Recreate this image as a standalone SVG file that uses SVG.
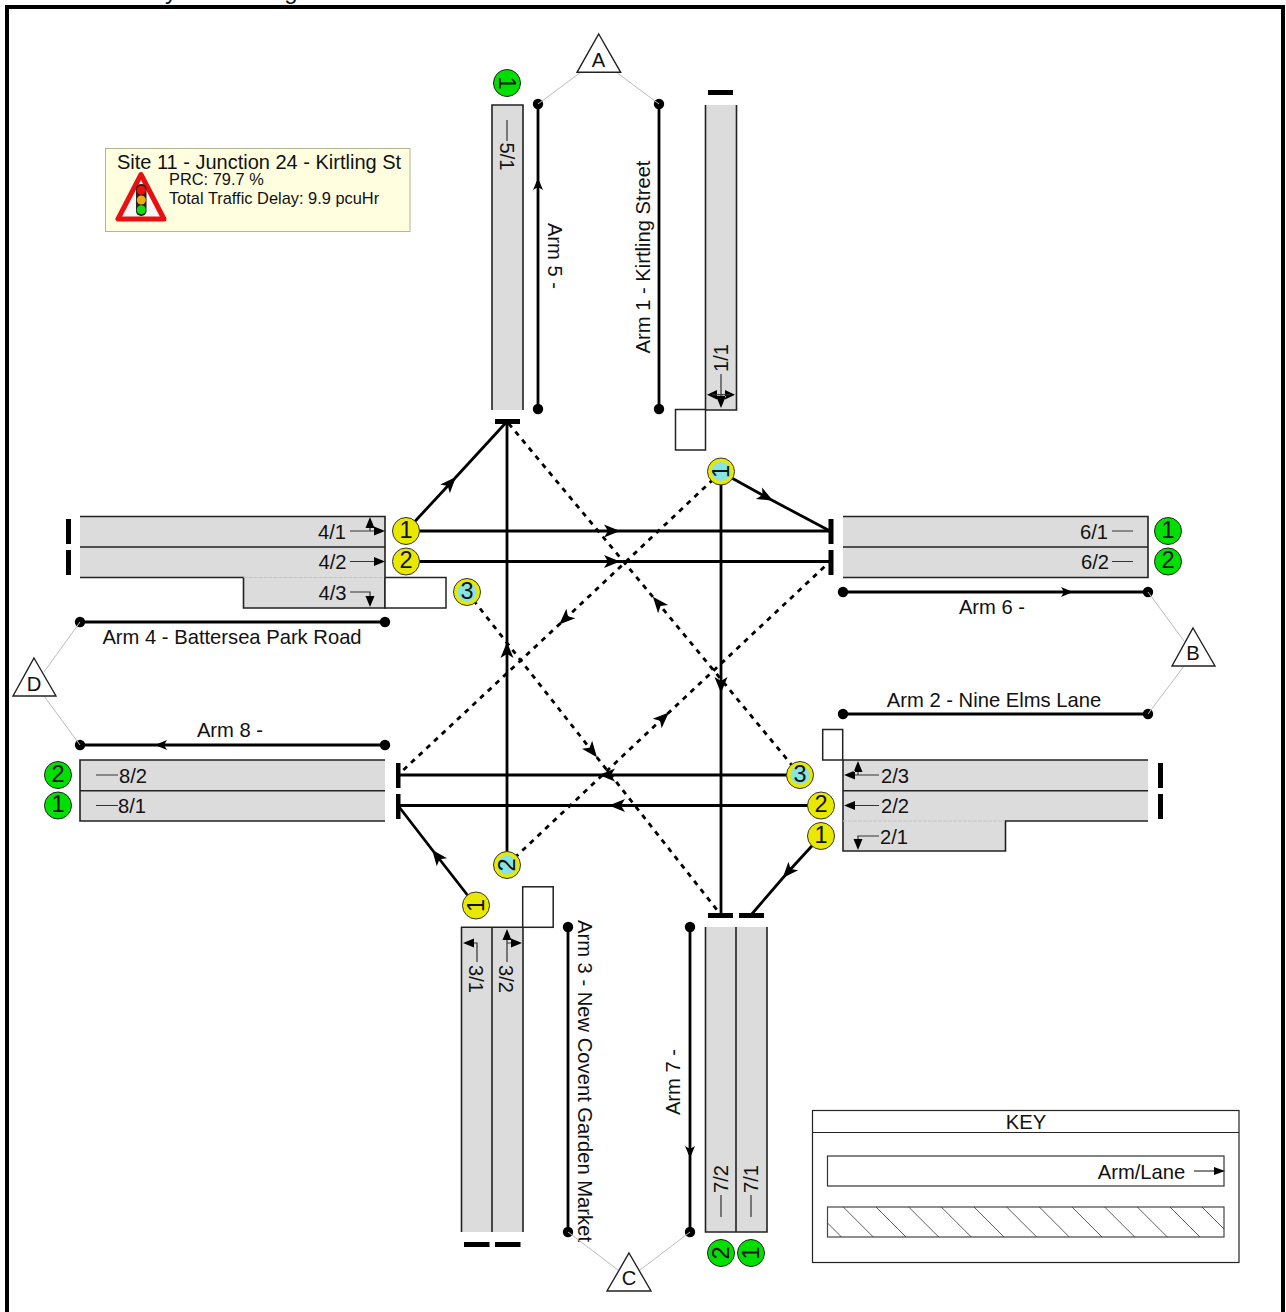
<svg xmlns="http://www.w3.org/2000/svg" width="1286" height="1312" viewBox="0 0 1286 1312">
<style>
text{font-family:"Liberation Sans",Arial,sans-serif;font-size:20.2px;fill:#111;text-anchor:middle;dominant-baseline:central}
.road{fill:#dcdcdc;stroke:none}
.edge{fill:none;stroke:#222;stroke-width:1.6}
.white{fill:#fff;stroke:#222;stroke-width:1.5}
.faint{stroke:#c4c4c4;stroke-width:1;fill:none;stroke-dasharray:4 1}
.bar{fill:#000}
.arm{stroke:#000;stroke-width:2.8;fill:none}
.link{stroke:#000;stroke-width:2.8;fill:none;marker-mid:url(#mid)}
.dash{stroke:#000;stroke-width:2.8;fill:none;stroke-dasharray:5 5.5;marker-mid:url(#mid)}
.dot{fill:#000}
.grey{stroke:#bcbcbc;stroke-width:1;fill:none}
.tri{fill:#fff;stroke:#222;stroke-width:1.4}
.lane{stroke:#333;stroke-width:1.2;fill:none}
.head{fill:#000}
.y{fill:#e8e800;stroke:#333;stroke-width:1}
.g{fill:#00e000;stroke:#222;stroke-width:1}
.c{fill:#88e4e4}
.num{font-size:23.5px}
.sm{font-size:16.4px;text-anchor:start}
.clip{font-size:24px;dominant-baseline:alphabetic}
</style>
<defs>
<marker id="mid" markerUnits="userSpaceOnUse" markerWidth="18" markerHeight="14" refX="8" refY="7" orient="auto" overflow="visible"><path d="M0,0.5 L16,7 L0,13.5 L4,7 Z" fill="#000"/></marker>
</defs>

<text class="clip" x="171" y="-1">y</text>
<text class="clip" x="291" y="-1">g</text>
<rect id="frame" x="7" y="7" width="1276" height="1312" fill="none" stroke="#000" stroke-width="4"/>

<g id="info-box">
<rect x="105.500" y="148.500" width="304.500" height="83" fill="#ffffe0" stroke="#b4b494" stroke-width="1"/>
<text x="259" y="162" style="font-size:20px">Site 11 - Junction 24 - Kirtling St</text>
<text class="sm" x="169" y="179">PRC: 79.7 %</text>
<text class="sm" x="169" y="198">Total Traffic Delay: 9.9 pcuHr</text>
<path d="M141,174.500 L118,219 L164,219 Z" fill="#f8f8f8" stroke="#e81010" stroke-width="5" stroke-linejoin="round"/>
<rect x="136" y="184" width="10.500" height="32" rx="5" fill="#222"/>
<circle cx="141.300" cy="190.300" r="4.500" fill="#e81010"/>
<circle cx="141.300" cy="200" r="4.500" fill="#eeaa18"/>
<circle cx="141.300" cy="209.700" r="4.500" fill="#10e010"/>
</g>

<g id="arm-5">
<rect class="road" x="492" y="105" width="31" height="305"/>
<path class="edge" d="M492,410 V105 H523 V410"/>
<rect class="bar" x="495" y="419" width="25" height="5"/>
<path class="lane" d="M507,120 V141"/>
<text transform="rotate(90 507 156.500)" x="507" y="156.500">5/1</text>
<path class="arm" d="M538,104 V409"/>
<circle class="dot" cx="538" cy="104" r="5.200"/><circle class="dot" cx="538" cy="409" r="5.200"/>
<path d="M538,178 L543,190 L538,187 L533,190 Z" fill="#000"/>
<text transform="rotate(90 555 256)" x="555" y="256">Arm 5 -</text>
</g>

<g id="arm-1">
<rect class="road" x="705.500" y="105" width="31" height="305"/>
<path class="edge" d="M705.500,105 V410 H736.500 V105"/>
<rect class="white" x="675.500" y="409.500" width="30" height="40.500"/>
<rect class="bar" x="708" y="90" width="25" height="5"/>
<path class="lane" d="M721,374 V406"/>
<path class="head" d="M721,408 L716,396 H726 Z M707,394.700 L717,390 V399.500 Z M735,394.700 L725,390 V399.500 Z"/>
<path class="lane" d="M712,394.700 H730"/>
<text transform="rotate(-90 721 358)" x="721" y="358">1/1</text>
<path class="arm" d="M659,104 V409"/>
<circle class="dot" cx="659" cy="104" r="5.200"/><circle class="dot" cx="659" cy="409" r="5.200"/>
<text transform="rotate(-90 643 257)" x="643" y="257">Arm 1 - Kirtling Street</text>
</g>

<g id="arm-4">
<rect class="road" x="80" y="516" width="305" height="61"/>
<rect class="road" x="243" y="577" width="142" height="31"/>
<path class="edge" d="M80,516.500 H385 V608 H243.500 V577.500 H80 M80,547 H385"/>
<path class="faint" d="M243.500,577.500 H385"/>
<rect class="white" x="385" y="577.500" width="61" height="30.500"/>
<rect class="bar" x="66" y="519" width="5" height="25"/><rect class="bar" x="66" y="550" width="5" height="25"/>
<text x="332" y="532">4/1</text><text x="332.500" y="562">4/2</text><text x="332.500" y="593">4/3</text>
<path class="lane" d="M350,531 H376 M370,531 V526 M350,561.500 H376 M350,592 H370 V598"/>
<path class="head" d="M385,531 L374,526.500 V535.500 Z M370,517 L365.500,528 H374.500 Z M385,561.500 L374,557 V566 Z M370,607 L365.500,596 H374.500 Z"/>
<path class="arm" d="M80,622 H385"/>
<circle class="dot" cx="80" cy="622" r="5.200"/><circle class="dot" cx="385" cy="622" r="5.200"/>
<text x="232" y="637">Arm 4 - Battersea Park Road</text>
</g>

<g id="arm-6">
<rect class="road" x="843" y="516" width="305" height="62"/>
<path class="edge" d="M843,516.500 H1148 V577.500 H843 M843,547 H1148"/>
<rect class="bar" x="828.500" y="519" width="5" height="25"/><rect class="bar" x="828.500" y="550" width="5" height="25"/>
<text x="1094" y="532">6/1</text><text x="1095" y="562">6/2</text>
<path class="lane" d="M1112,531 H1133 M1112,561.500 H1133"/>
<path class="arm" d="M843,592 H1148"/>
<circle class="dot" cx="843" cy="592" r="5.200"/><circle class="dot" cx="1148" cy="592" r="5.200"/>
<path d="M1073,592 L1061,587 L1064,592 L1061,597 Z" fill="#000"/>
<text x="992" y="607">Arm 6 -</text>
</g>

<g id="arm-2">
<rect class="road" x="843" y="760" width="305" height="61"/>
<rect class="road" x="843" y="821" width="163" height="30"/>
<path class="edge" d="M1148,760 H843 V851 H1005.500 V821 H1148 M843,790.700 H1148"/>
<path class="faint" d="M843,821 H1005"/>
<rect class="white" x="822.700" y="729.500" width="20" height="30.500"/>
<rect class="bar" x="1158" y="763" width="5" height="25"/><rect class="bar" x="1158" y="794" width="5" height="25"/>
<text x="895" y="776">2/3</text><text x="895" y="806">2/2</text><text x="894" y="837">2/1</text>
<path class="lane" d="M879,775 H852 M858,775 V770 M879,805.500 H852 M879,836 H858 V842"/>
<path class="head" d="M844,775 L855,770.500 V779.500 Z M858,761 L853.500,772 H862.500 Z M844,805.500 L855,801 V810 Z M858,850 L853.500,839 H862.500 Z"/>
<path class="arm" d="M843,714 H1148"/>
<circle class="dot" cx="843" cy="714" r="5.200"/><circle class="dot" cx="1148" cy="714" r="5.200"/>
<text x="994" y="700">Arm 2 - Nine Elms Lane</text>
</g>

<g id="arm-8">
<rect class="road" x="80" y="760" width="305" height="61"/>
<path class="edge" d="M385,760 H80 V821 H385 M80,790.700 H385"/>
<rect class="bar" x="396" y="763" width="4.500" height="25"/><rect class="bar" x="396" y="794" width="4.500" height="25"/>
<text x="133" y="776">8/2</text><text x="132" y="806">8/1</text>
<path class="lane" d="M96,775 H118 M96,805.500 H118"/>
<path class="arm" d="M80,745 H385"/>
<circle class="dot" cx="80" cy="745" r="5.200"/><circle class="dot" cx="385" cy="745" r="5.200"/>
<path d="M155,745 L167,740 L164,745 L167,750 Z" fill="#000"/>
<text x="230" y="730">Arm 8 -</text>
</g>

<g id="arm-3">
<rect class="road" x="461.500" y="927" width="61.500" height="305"/>
<path class="edge" d="M461.500,1232 V927.300 H523 V1232 M492,927 V1232"/>
<rect class="white" x="522.700" y="886.800" width="30.500" height="40.500"/>
<rect class="bar" x="464" y="1242" width="25.500" height="5"/><rect class="bar" x="495" y="1242" width="25.500" height="5"/>
<path class="lane" d="M477,962 V943 H468 M507,962 V935 M507,943 H515"/>
<path class="head" d="M463,943 L474,938.500 V947.500 Z M507,929 L502.500,940 H511.500 Z M522,943 L511,938.500 V947.500 Z"/>
<text transform="rotate(90 476 979)" x="476" y="979">3/1</text>
<text transform="rotate(90 506 979)" x="506" y="979">3/2</text>
<path class="arm" d="M568,927 V1232"/>
<circle class="dot" cx="568" cy="927" r="5.200"/><circle class="dot" cx="568" cy="1232" r="5.200"/>
<text transform="rotate(90 585 1081)" x="585" y="1081">Arm 3 - New Covent Garden Market</text>
</g>

<g id="arm-7">
<rect class="road" x="705.500" y="927" width="61.500" height="305"/>
<path class="edge" d="M705.500,927 V1232 H767 V927 M736,927 V1232"/>
<rect class="bar" x="708" y="913" width="25" height="5"/><rect class="bar" x="739" y="913" width="25" height="5"/>
<path class="lane" d="M721,1217 V1195 M751,1217 V1195"/>
<text transform="rotate(-90 721 1179)" x="721" y="1179">7/2</text>
<text transform="rotate(-90 751 1179)" x="751" y="1179">7/1</text>
<path class="arm" d="M690,927 V1232"/>
<circle class="dot" cx="690" cy="927" r="5.200"/><circle class="dot" cx="690" cy="1232" r="5.200"/>
<path d="M690,1158 L685,1146 L690,1149 L695,1146 Z" fill="#000"/>
<text transform="rotate(-90 673 1082)" x="673" y="1082">Arm 7 -</text>
</g>

<g id="connectors">
<path class="grey" d="M538,104 L581,72 M659,104 L616,72 M1148,592 L1184,641 M1148,714 L1184,666 M568,1232 L618,1270 M690,1232 L640,1270 M80,622 L44,672 M80,745 L44,696"/>
<path class="link" d="M406,531 L450.500,483 L507,421.500"/>
<path class="link" d="M406,531 L612,531 L830,531"/>
<path class="link" d="M406,561.500 L612,561.500 L830,561.500"/>
<path class="link" d="M721,472 L766,497 L830,531"/>
<path class="link" d="M721,472 L721,685 L721,915"/>
<path class="link" d="M800,775 L607,775 L398,775"/>
<path class="link" d="M821,805.500 L617,805.500 L398,805.500"/>
<path class="link" d="M821,836 L788,872 L751,915"/>
<path class="link" d="M476,906 L437,856 L398,805.500"/>
<path class="link" d="M507,865 L507,650 L507,421.500"/>
<path class="dash" d="M721,472 L565,619 L398,775"/>
<path class="dash" d="M800,775 L658,603 L507,421.500"/>
<path class="dash" d="M507,865 L663,718 L830,561.500"/>
<path class="dash" d="M467,592 L592,751 L721,915"/>
</g>

<g id="terminal-a"><path class="tri" d="M598.700,34 L620.700,72.300 L577,72.300 Z"/><text x="598.500" y="60">A</text></g>
<g id="terminal-b"><path class="tri" d="M1193,628 L1215,666 L1172,666 Z"/><text x="1193" y="653">B</text></g>
<g id="terminal-c"><path class="tri" d="M629,1253 L651,1291 L607,1291 Z"/><text x="629" y="1278">C</text></g>
<g id="terminal-d"><path class="tri" d="M34,658 L56,696 L13,696 Z"/><text x="34" y="684">D</text></g>

<g id="signal-g5-1"><circle class="g" cx="507" cy="83" r="13.500"/><text class="num" transform="rotate(90 507 83)" x="507" y="83">1</text></g>
<g id="signal-g6-1"><circle class="g" cx="1168" cy="531" r="13.500"/><text class="num" x="1168" y="530">1</text></g>
<g id="signal-g6-2"><circle class="g" cx="1168" cy="561.500" r="13.500"/><text class="num" x="1168" y="560">2</text></g>
<g id="signal-g8-2"><circle class="g" cx="58" cy="775" r="13.500"/><text class="num" x="58" y="774">2</text></g>
<g id="signal-g8-1"><circle class="g" cx="58" cy="805.500" r="13.500"/><text class="num" x="58" y="804">1</text></g>
<g id="signal-g7-2"><circle class="g" cx="721" cy="1253" r="13.500"/><text class="num" transform="rotate(-90 721 1253)" x="721" y="1253">2</text></g>
<g id="signal-g7-1"><circle class="g" cx="751" cy="1253" r="13.500"/><text class="num" transform="rotate(-90 751 1253)" x="751" y="1253">1</text></g>

<g id="signal-4-1"><circle class="y" cx="406" cy="531" r="13.500"/><text class="num" x="406" y="530">1</text></g>
<g id="signal-4-2"><circle class="y" cx="406" cy="561.500" r="13.500"/><text class="num" x="406" y="560">2</text></g>
<g id="signal-4-3"><circle class="y" cx="467" cy="592" r="13.500"/><circle class="c" cx="467" cy="592" r="9.500"/><text class="num" x="467" y="591">3</text></g>
<g id="signal-2-3"><circle class="y" cx="800" cy="775" r="13.500"/><circle class="c" cx="800" cy="775" r="9.500"/><text class="num" x="800" y="774">3</text></g>
<g id="signal-2-2"><circle class="y" cx="821" cy="805.500" r="13.500"/><text class="num" x="821" y="804">2</text></g>
<g id="signal-2-1"><circle class="y" cx="821" cy="836" r="13.500"/><text class="num" x="821" y="835">1</text></g>
<g id="signal-3-1"><circle class="y" cx="476" cy="905.500" r="13.500"/><text class="num" transform="rotate(-90 476 905.500)" x="476" y="905.500">1</text></g>
<g id="signal-3-2"><circle class="y" cx="507" cy="865" r="13.500"/><circle class="c" cx="507" cy="865" r="9.500"/><text class="num" transform="rotate(-90 507 865)" x="507" y="865">2</text></g>
<g id="signal-1-1"><circle class="y" cx="721" cy="471.500" r="13.500"/><circle class="c" cx="721" cy="471.500" r="9.500"/><text class="num" transform="rotate(-90 721 471.500)" x="721" y="471.500">1</text></g>

<g id="key">
<rect x="812.500" y="1110.500" width="426.500" height="152" fill="#fff" stroke="#222" stroke-width="1.200"/>
<path d="M812.500,1132.500 H1239" stroke="#222" stroke-width="1" fill="none"/>
<text x="1026" y="1122">KEY</text>
<rect x="827.500" y="1156" width="396.500" height="30" fill="#fff" stroke="#333" stroke-width="1.200"/>
<text x="1141.500" y="1172">Arm/Lane</text>
<path class="lane" d="M1194,1171 H1216"/>
<path class="head" d="M1225,1171 L1214,1167 V1175 Z"/>
<rect x="827.500" y="1207" width="396.500" height="30" fill="#fff" stroke="#444" stroke-width="1.200"/>
<path d="M827.500,1223 L841.500,1237 M843.300,1207 L873.300,1237 M876,1207 L906,1237 M908.700,1207 L938.700,1237 M941.300,1207 L971.300,1237 M974,1207 L1004,1237 M1006.700,1207 L1036.700,1237 M1039.300,1207 L1069.300,1237 M1072,1207 L1102,1237 M1104.700,1207 L1134.700,1237 M1137.300,1207 L1167.300,1237 M1170,1207 L1200,1237 M1202,1207 L1224,1229" stroke="#333" stroke-width="0.800" fill="none"/>
</g>
</svg>
